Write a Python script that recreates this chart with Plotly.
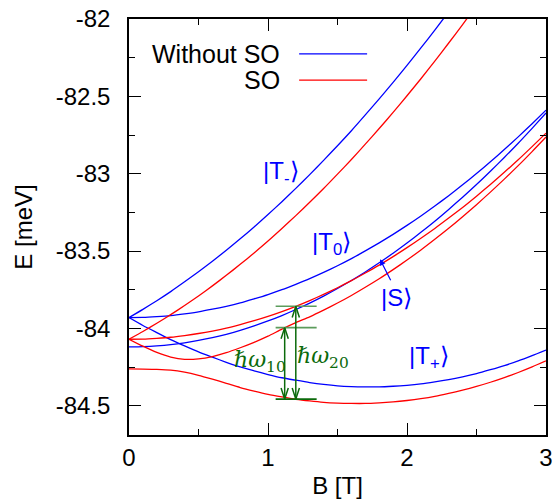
import plotly.graph_objects as go

# Magnetic field samples (T)
field_T = [0.0, 0.1, 0.2, 0.3, 0.4, 0.5, 0.6, 0.7, 0.8, 0.9,
           1.0, 1.1, 1.2, 1.3, 1.4, 1.5, 1.6, 1.7, 1.8, 1.9,
           2.0, 2.1, 2.2, 2.3, 2.4, 2.5, 2.6, 2.7, 2.8, 2.9, 3.0]

# Two-electron levels without spin-orbit coupling (meV)
t_minus = [-83.930, -83.877, -83.821, -83.762, -83.699, -83.634, -83.566, -83.495,
           -83.421, -83.344, -83.264, -83.181, -83.095, -83.006, -82.914, -82.819,
           -82.722, -82.620, -82.516, -82.410, -82.300, -82.187, -82.072, -81.953]
t_zero = [-83.930, -83.929, -83.924, -83.917, -83.906, -83.893, -83.876, -83.857,
          -83.835, -83.809, -83.781, -83.750, -83.715, -83.678, -83.638, -83.595,
          -83.549, -83.499, -83.447, -83.392, -83.334, -83.273, -83.209, -83.142,
          -83.072, -82.999, -82.923, -82.844, -82.762, -82.677, -82.589]
singlet = [-84.120, -84.118, -84.113, -84.105, -84.093, -84.078, -84.060, -84.038,
           -84.013, -83.984, -83.952, -83.917, -83.878, -83.836, -83.791, -83.742,
           -83.690, -83.635, -83.576, -83.514, -83.448, -83.379, -83.307, -83.231,
           -83.152, -83.070, -82.984, -82.895, -82.803, -82.707, -82.608]
t_plus = [-83.930, -83.981, -84.027, -84.072, -84.113, -84.152, -84.186, -84.219,
          -84.249, -84.274, -84.298, -84.319, -84.335, -84.350, -84.362, -84.371,
          -84.376, -84.378, -84.378, -84.374, -84.368, -84.359, -84.346, -84.331,
          -84.313, -84.292, -84.267, -84.240, -84.210, -84.176, -84.140]

# Levels with spin-orbit coupling (meV)
so_t_minus = [-84.070, -84.020, -83.967, -83.911, -83.852, -83.790, -83.725, -83.657,
              -83.586, -83.512, -83.435, -83.354, -83.271, -83.185, -83.096, -83.003,
              -82.908, -82.809, -82.708, -82.604, -82.496, -82.386, -82.272, -82.155,
              -82.036, -81.913]
so_t_zero = [-84.070, -84.069, -84.064, -84.057, -84.046, -84.033, -84.017, -83.998,
             -83.975, -83.950, -83.922, -83.891, -83.857, -83.820, -83.780, -83.737,
             -83.691, -83.642, -83.591, -83.536, -83.478, -83.417, -83.354, -83.287,
             -83.218, -83.145, -83.070, -82.991, -82.910, -82.825, -82.738]
so_upper = [-84.070, -84.115, -84.155, -84.185, -84.200, -84.197, -84.182, -84.157,
            -84.125, -84.090, -84.050, -84.005, -83.963, -83.925, -83.882, -83.836,
            -83.787, -83.734, -83.679, -83.620, -83.558, -83.493, -83.424, -83.353,
            -83.278, -83.200, -83.119, -83.035, -82.948, -82.857, -82.763]
so_ground = [-84.262, -84.263, -84.265, -84.270, -84.283, -84.303, -84.328, -84.355,
             -84.382, -84.405, -84.426, -84.443, -84.458, -84.469, -84.478, -84.483,
             -84.485, -84.485, -84.481, -84.475, -84.466, -84.454, -84.439, -84.420,
             -84.399, -84.375, -84.348, -84.318, -84.285, -84.249, -84.210]

# Optical transitions from the SO ground state
b_10, b_20 = 1.12, 1.20
e_0, e_1, e_2 = -84.457, -83.995, -83.857

# Axis ticks
x_ticks = [0, 1, 2, 3]
x_tick_text = ["0", "1", "2", "3"]
y_ticks = [-82.0, -82.5, -83.0, -83.5, -84.0, -84.5]
y_tick_text = ["-82", "-82.5", "-83", "-83.5", "-84", "-84.5"]

series_names = ["Without SO", "SO"]

BLUE = "#0000ff"
RED = "#ff0000"
GREEN = "#0b6a0b"
LIGHT_GREEN = "#5c9c5c"
FONT = "Liberation Sans"

fig = go.Figure()


def curve(energies, color):
    fig.add_trace(go.Scatter(
        x=field_T[:len(energies)], y=energies, mode="lines",
        line=dict(color=color, width=1.3, shape="spline", smoothing=0.6),
        showlegend=False, hoverinfo="skip"))


for e in (t_minus, t_zero, singlet, t_plus):
    curve(e, BLUE)
for e in (so_t_minus, so_t_zero, so_upper, so_ground):
    curve(e, RED)

# Horizontal markers at the levels involved in the transitions
bar_lo, bar_hi = 1.055, 1.35
fig.add_trace(go.Scatter(
    x=[bar_lo, bar_hi, None, bar_lo, bar_hi],
    y=[e_2, e_2, None, e_1, e_1],
    mode="lines", line=dict(color=LIGHT_GREEN, width=1.6),
    showlegend=False, hoverinfo="skip"))
fig.add_trace(go.Scatter(
    x=[bar_lo, bar_hi], y=[e_0, e_0],
    mode="lines", line=dict(color=GREEN, width=1.6),
    showlegend=False, hoverinfo="skip"))

# Double-headed transition arrows with open heads
head_len, head_half = 0.072, 0.026
ax_x, ax_y = [], []
for b, top in ((b_10, e_1), (b_20, e_2)):
    ax_x += [b, b, None]
    ax_y += [e_0, top, None]
    ax_x += [b - head_half, b, b + head_half, None]
    ax_y += [top - head_len, top, top - head_len, None]
    ax_x += [b - head_half, b, b + head_half, None]
    ax_y += [e_0 + head_len, e_0, e_0 + head_len, None]
fig.add_trace(go.Scatter(
    x=ax_x, y=ax_y, mode="lines", line=dict(color=GREEN, width=1.5),
    showlegend=False, hoverinfo="skip"))

state_font = dict(family=FONT, size=24, color=BLUE)
math_font = dict(family="DejaVu Serif", size=22, color=GREEN)
annotations = [
    dict(x=1.094, y=-82.995, text="|T<sub>-</sub>⟩", font=state_font),
    dict(x=1.460, y=-83.448, text="|T<sub>0</sub>⟩", font=state_font),
    dict(x=1.921, y=-83.803, text="|S⟩", font=state_font),
    dict(x=2.158, y=-84.185, text="|T<sub>+</sub>⟩", font=state_font),
    dict(x=0.942, y=-84.217, text="<i>ℏω</i><sub>10</sub>", font=math_font),
    dict(x=1.396, y=-84.185, text="<i>ℏω</i><sub>20</sub>", font=math_font),
]
for a in annotations:
    a.update(xref="x", yref="y", showarrow=False, xanchor="center", yanchor="middle")

# Pointer to the singlet branch
annotations.append(dict(
    x=1.806, y=-83.553, ax=1.888, ay=-83.698, axref="x", ayref="y",
    xref="x", yref="y", text="", showarrow=True, arrowhead=2,
    arrowsize=1, arrowwidth=1.2, arrowcolor=BLUE))

# Key (text on the left, line sample on the right)
key_y = [0.916, 0.853]
for name, yk, color in zip(series_names, key_y, (BLUE, RED)):
    annotations.append(dict(
        x=0.367, y=yk, xref="paper", yref="paper", text=name, showarrow=False,
        xanchor="right", yanchor="middle",
        font=dict(family=FONT, size=25, color="black")))
    fig.add_shape(type="line", xref="paper", yref="paper",
                  x0=0.408, x1=0.571, y0=yk, y1=yk,
                  line=dict(color=color, width=1.3))

axis_common = dict(
    showline=True, linecolor="black", linewidth=1.5, mirror="allticks",
    ticks="inside", ticklen=12, tickwidth=1, tickcolor="black",
    showgrid=False, zeroline=False, automargin=False,
    tickfont=dict(family=FONT, size=24, color="black"),
)

fig.update_layout(
    width=558, height=500,
    margin=dict(l=129, r=12, t=19, b=65),
    paper_bgcolor="white", plot_bgcolor="white",
    showlegend=False,
    annotations=annotations,
    xaxis=dict(
        range=[0, 3], tickvals=x_ticks, ticktext=x_tick_text,
        minor=dict(ticks="inside", ticklen=6, dtick=0.5, tick0=0, tickcolor="black"),
        title=dict(text="B [T]", font=dict(family=FONT, size=24, color="black"), standoff=8),
        ticklabelstandoff=0,
        **axis_common),
    yaxis=dict(
        range=[-84.689, -82], tickvals=y_ticks, ticktext=y_tick_text,
        minor=dict(ticks="inside", ticklen=6, dtick=0.25, tick0=-82, tickcolor="black"),
        title=dict(text="E [meV]", font=dict(family=FONT, size=24, color="black"), standoff=16),
        ticklabelstandoff=12,
        **axis_common),
)

fig.write_html("out.html")
